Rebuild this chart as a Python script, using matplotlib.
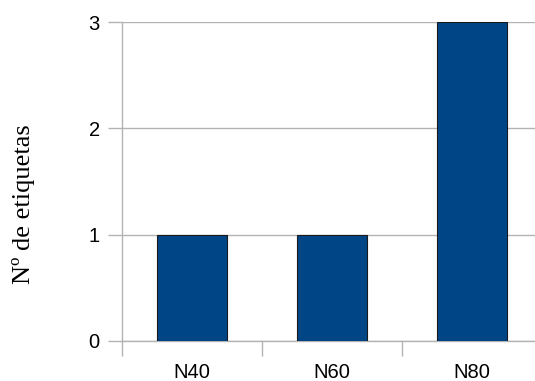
import matplotlib.pyplot as plt

categories = ['N40', 'N60', 'N80']
counts = [1, 1, 3]
y_ticks = [0, 1, 2, 3]

fig = plt.figure(figsize=(5.35, 3.81), dpi=100)
ax = fig.add_axes([122 / 535, 40 / 381, 420 / 535, 319 / 381])

grid_col = '#b3b3b3'
x = range(len(categories))
ax.bar(x, counts, width=0.5, color='#004586', edgecolor='#1a1a1a', linewidth=0.8, zorder=3)

ax.set_xlim(-0.5, len(categories) - 0.5)
ax.set_ylim(0, 3)
ax.set_yticks(y_ticks)
ax.set_yticklabels([str(v) for v in y_ticks], fontfamily='Liberation Sans', fontsize=14.5)
ax.yaxis.grid(True, color=grid_col, linewidth=1, zorder=0)

# boundary ticks (no labels) and centred category labels
ax.set_xticks([i - 0.5 for i in range(len(categories) + 1)])
ax.set_xticklabels([])
ax.set_xticks(list(x), minor=True)
ax.set_xticklabels(categories, minor=True, fontfamily='Liberation Sans', fontsize=14.5)
ax.tick_params(axis='x', which='major', length=11, color=grid_col, width=1)
ax.tick_params(axis='x', which='minor', length=0, pad=16)
ax.tick_params(axis='y', length=10, color=grid_col, width=1, pad=6)

for s in ['top', 'right']:
    ax.spines[s].set_visible(False)
for s in ['left', 'bottom']:
    ax.spines[s].set_color(grid_col)
    ax.spines[s].set_linewidth(1)

fig.text(24 / 535, 1 - 204 / 381, 'Nº de etiquetas', rotation=90, ha='center', va='center',
         fontfamily='Liberation Serif', fontsize=19)

fig.savefig('out.png', dpi=100)
